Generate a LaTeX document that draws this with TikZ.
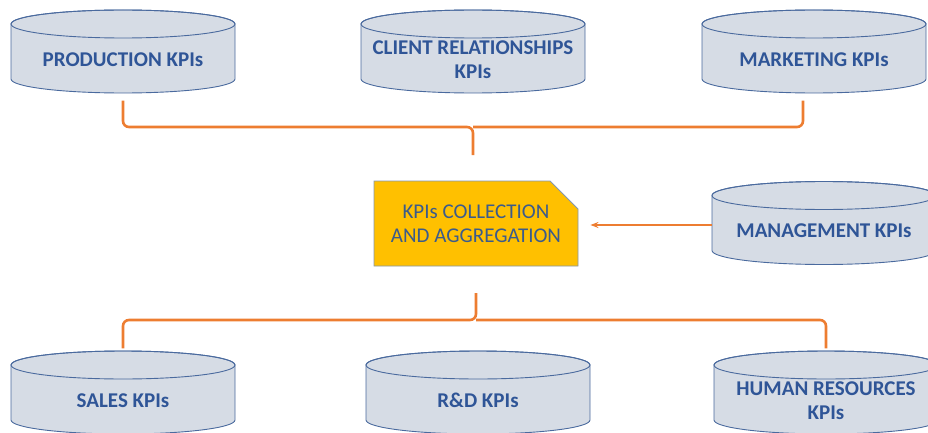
\documentclass[tikz,border=0pt]{standalone}
\usepackage{fontspec}
\setmainfont{Carlito}
\usetikzlibrary{shapes.misc,calc,arrows.meta}

\definecolor{dbfill}{HTML}{D6DCE5}
\definecolor{dbline}{HTML}{4A6A9E}
\definecolor{dbtext}{HTML}{2F5597}
\definecolor{hubfill}{HTML}{FFC000}
\definecolor{hubline}{HTML}{8497B0}
\definecolor{hubtext}{HTML}{3B5B8C}
\definecolor{link}{HTML}{ED7D31}

% cylinder: name, centre x, centre y, label
\newcommand\kpidb[4]{%
  \path[fill=dbfill,draw=dbline,line width=0.9pt]
    (#2-112,#3+27.5) -- (#2-112,#3-27.5)
    arc[start angle=180,end angle=360,x radius=112,y radius=14]
    -- (#2+112,#3+27.5)
    arc[start angle=0,end angle=180,x radius=112,y radius=14] -- cycle;
  \draw[dbline,line width=0.9pt] (#2,#3+27.5) ellipse[x radius=112,y radius=14];
  \node[dbnode] (#1) at (#2,#3-8) {#4};
}

\begin{document}
\begin{tikzpicture}[x=1pt,y=1pt,
  dbnode/.style={font=\fontsize{21}{24}\selectfont\bfseries,text=dbtext,
    align=center,minimum width=224pt,minimum height=56pt,inner sep=0pt},
  hub/.style={chamfered rectangle,chamfered rectangle corners=north east,
    chamfered rectangle xsep=14pt,chamfered rectangle ysep=14pt,
    fill=hubfill,draw=hubline,line width=0.9pt,text=hubtext,
    font=\fontsize{21}{24}\selectfont,align=center,
    minimum width=204pt,minimum height=85pt,inner sep=0pt},
  brace/.style={draw=link,line width=2.6pt,rounded corners=6pt},
  feed/.style={draw=link,line width=1.5pt,-{Stealth[length=8pt,width=6pt]}}]
\useasboundingbox (0,0) rectangle (928,432);

% sources above the hub
\kpidb{prod}{123}{380.5}{PRODUCTION KPIs}
\kpidb{client}{473}{380.5}{CLIENT RELATIONSHIPS\\KPIs}
\kpidb{mkt}{814}{380.5}{MARKETING KPIs}

% side source
\kpidb{mgmt}{824}{209}{MANAGEMENT KPIs}

% sources below the hub
\kpidb{sales}{123}{39.5}{SALES KPIs}
\kpidb{rnd}{478}{39.5}{R\&D KPIs}
\kpidb{hr}{826}{39.5}{HUMAN RESOURCES\\KPIs}

% collection hub
\node[hub] (hub) at (476,208.5) {KPIs COLLECTION\\AND AGGREGATION};

% brace gathering the upper sources
\coordinate (topTip) at (473,277);
\draw[brace] ($(prod.south)+(0,-13)$) |- (473,305) -- (topTip);
\draw[brace] ($(mkt.south)+(-11,-13)$) |- (473,305);

% brace gathering the lower sources
\coordinate (botTip) at (476,139);
\draw[brace] ($(sales.north)+(0,24)$) |- (476,112) -- (botTip);
\draw[brace] ($(hr.north)+(0,24)$) |- (476,112);

% management feed
\draw[feed] (mgmt.west |- 0,207) -- ($(hub.east |- 0,207)+(12,0)$);
\end{tikzpicture}
\end{document}
